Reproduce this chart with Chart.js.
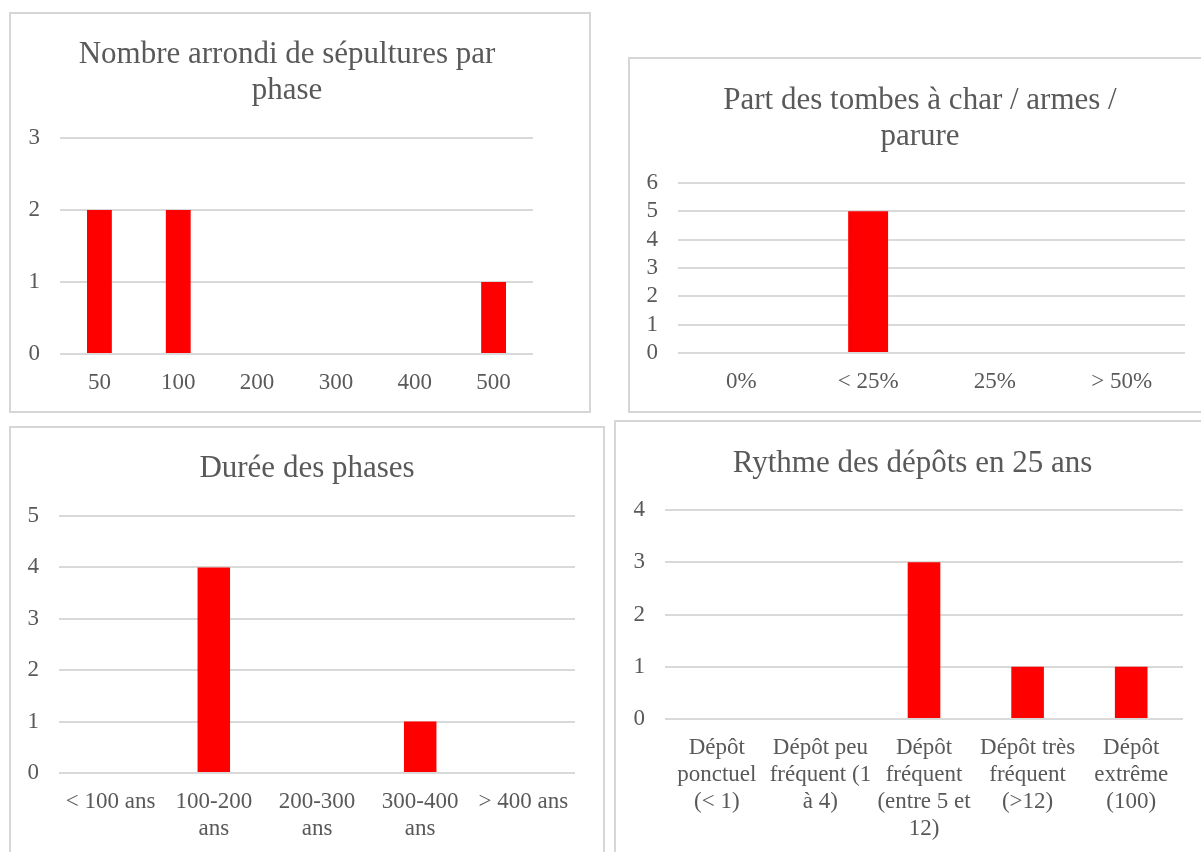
<!DOCTYPE html>
<html>
<head>
<meta charset="utf-8">
<script src="https://cdn.jsdelivr.net/npm/chart.js@4"></script>
<style>
  html, body { margin: 0; padding: 0; background: #fff; width: 1201px; height: 852px; overflow: hidden; }
  .panel { position: absolute; box-sizing: border-box; border: 2px solid #d6d6d6; background: #fff; }
  .panel canvas { position: absolute; left: 0; top: 0; }
</style>
</head>
<body>
<div class="panel" id="p1" style="left:9px;top:12px;width:582px;height:401px;"><canvas id="c1" width="578" height="397"></canvas></div>
<div class="panel" id="p2" style="left:628px;top:57px;width:600px;height:356px;"><canvas id="c2" width="596" height="352"></canvas></div>
<div class="panel" id="p3" style="left:9px;top:426px;width:596px;height:452px;"><canvas id="c3" width="592" height="448"></canvas></div>
<div class="panel" id="p4" style="left:614px;top:420px;width:600px;height:458px;"><canvas id="c4" width="596" height="454"></canvas></div>
<script>
// ---- Data ----
const title1 = ["Nombre arrondi de sépultures par", "phase"];
const categories1 = ["50", "100", "200", "300", "400", "500"];
const values1 = [2, 2, 0, 0, 0, 1];
const yMax1 = 3;

const title2 = ["Part des tombes à char / armes /", "parure"];
const categories2 = ["0%", "< 25%", "25%", "> 50%"];
const values2 = [0, 5, 0, 0];
const yMax2 = 6;

const title3 = "Durée des phases";
const categories3 = [["< 100 ans"], ["100-200", "ans"], ["200-300", "ans"], ["300-400", "ans"], ["> 400 ans"]];
const values3 = [0, 4, 0, 1, 0];
const yMax3 = 5;

const title4 = "Rythme des dépôts en 25 ans";
const categories4 = [["Dépôt", "ponctuel", "(< 1)"], ["Dépôt peu", "fréquent (1", "à 4)"], ["Dépôt", "fréquent", "(entre 5 et", "12)"], ["Dépôt très", "fréquent", "(>12)"], ["Dépôt", "extrême", "(100)"]];
const values4 = [0, 0, 3, 1, 1];
const yMax4 = 4;

// ---- Style ----
const TEXT = '#595959';
const GRID = '#d9d9d9';
const FONT = "'Liberation Serif', 'DejaVu Serif', serif";

function makeChart(id, title, cats, vals, yMax, L) {
  new Chart(document.getElementById(id), {
    type: 'bar',
    data: {
      labels: cats,
      datasets: [{ data: vals, backgroundColor: '#ff0000', borderWidth: 0,
                   barPercentage: 0.315, categoryPercentage: 1.0, yAxisID: 'y' }]
    },
    options: {
      responsive: false,
      animation: false,
      devicePixelRatio: 1,
      layout: { padding: { left: 0, right: L.right, top: 0, bottom: 0 } },
      plugins: {
        legend: { display: false },
        tooltip: { enabled: false },
        title: {
          display: true,
          text: title,
          color: TEXT,
          font: { family: FONT, size: 31, weight: 'normal', lineHeight: 1.15 },
          padding: { top: L.tTop, bottom: L.tBottom }
        }
      },
      scales: {
        x: {
          grid: { display: false, drawTicks: false },
          border: { display: false },
          ticks: { color: TEXT, font: { family: FONT, size: 23, lineHeight: 1.174 },
                   padding: 15, autoSkip: false, maxRotation: 0, minRotation: 0 },
          afterFit: (s) => { s.height = L.xH; }
        },
        y: {
          min: 0, max: yMax,
          grid: { color: GRID, lineWidth: 2, drawTicks: false },
          border: { display: false },
          ticks: { stepSize: 1, autoSkip: false, color: TEXT, font: { family: FONT, size: 23 }, padding: 20 },
          afterFit: (s) => { s.width = L.yW; }
        },
        y2: {
          position: 'right',
          display: true,
          grid: { display: false, drawTicks: false },
          border: { display: false },
          ticks: { display: false },
          afterFit: (s) => { s.width = L.y2W; }
        }
      }
    }
  });
}

makeChart('c1', title1, categories1, values1, yMax1, { right: 26, y2W: 30, tTop: 23.2, tBottom: 29.5, xH: 57, yW: 49 });
makeChart('c2', title2, categories2, values2, yMax2, { right: 16, y2W: 25, tTop: 24.2, tBottom: 28.5, xH: 58, yW: 48 });
makeChart('c3', title3, categories3, values3, yMax3, { right: 0, y2W: 28, tTop: 23.2, tBottom: 29.15, xH: 103, yW: 48 });
makeChart('c4', title4, categories4, values4, yMax4, { right: 3, y2W: 26, tTop: 24.2, tBottom: 28.15, xH: 157, yW: 49 });
</script>
</body>
</html>
